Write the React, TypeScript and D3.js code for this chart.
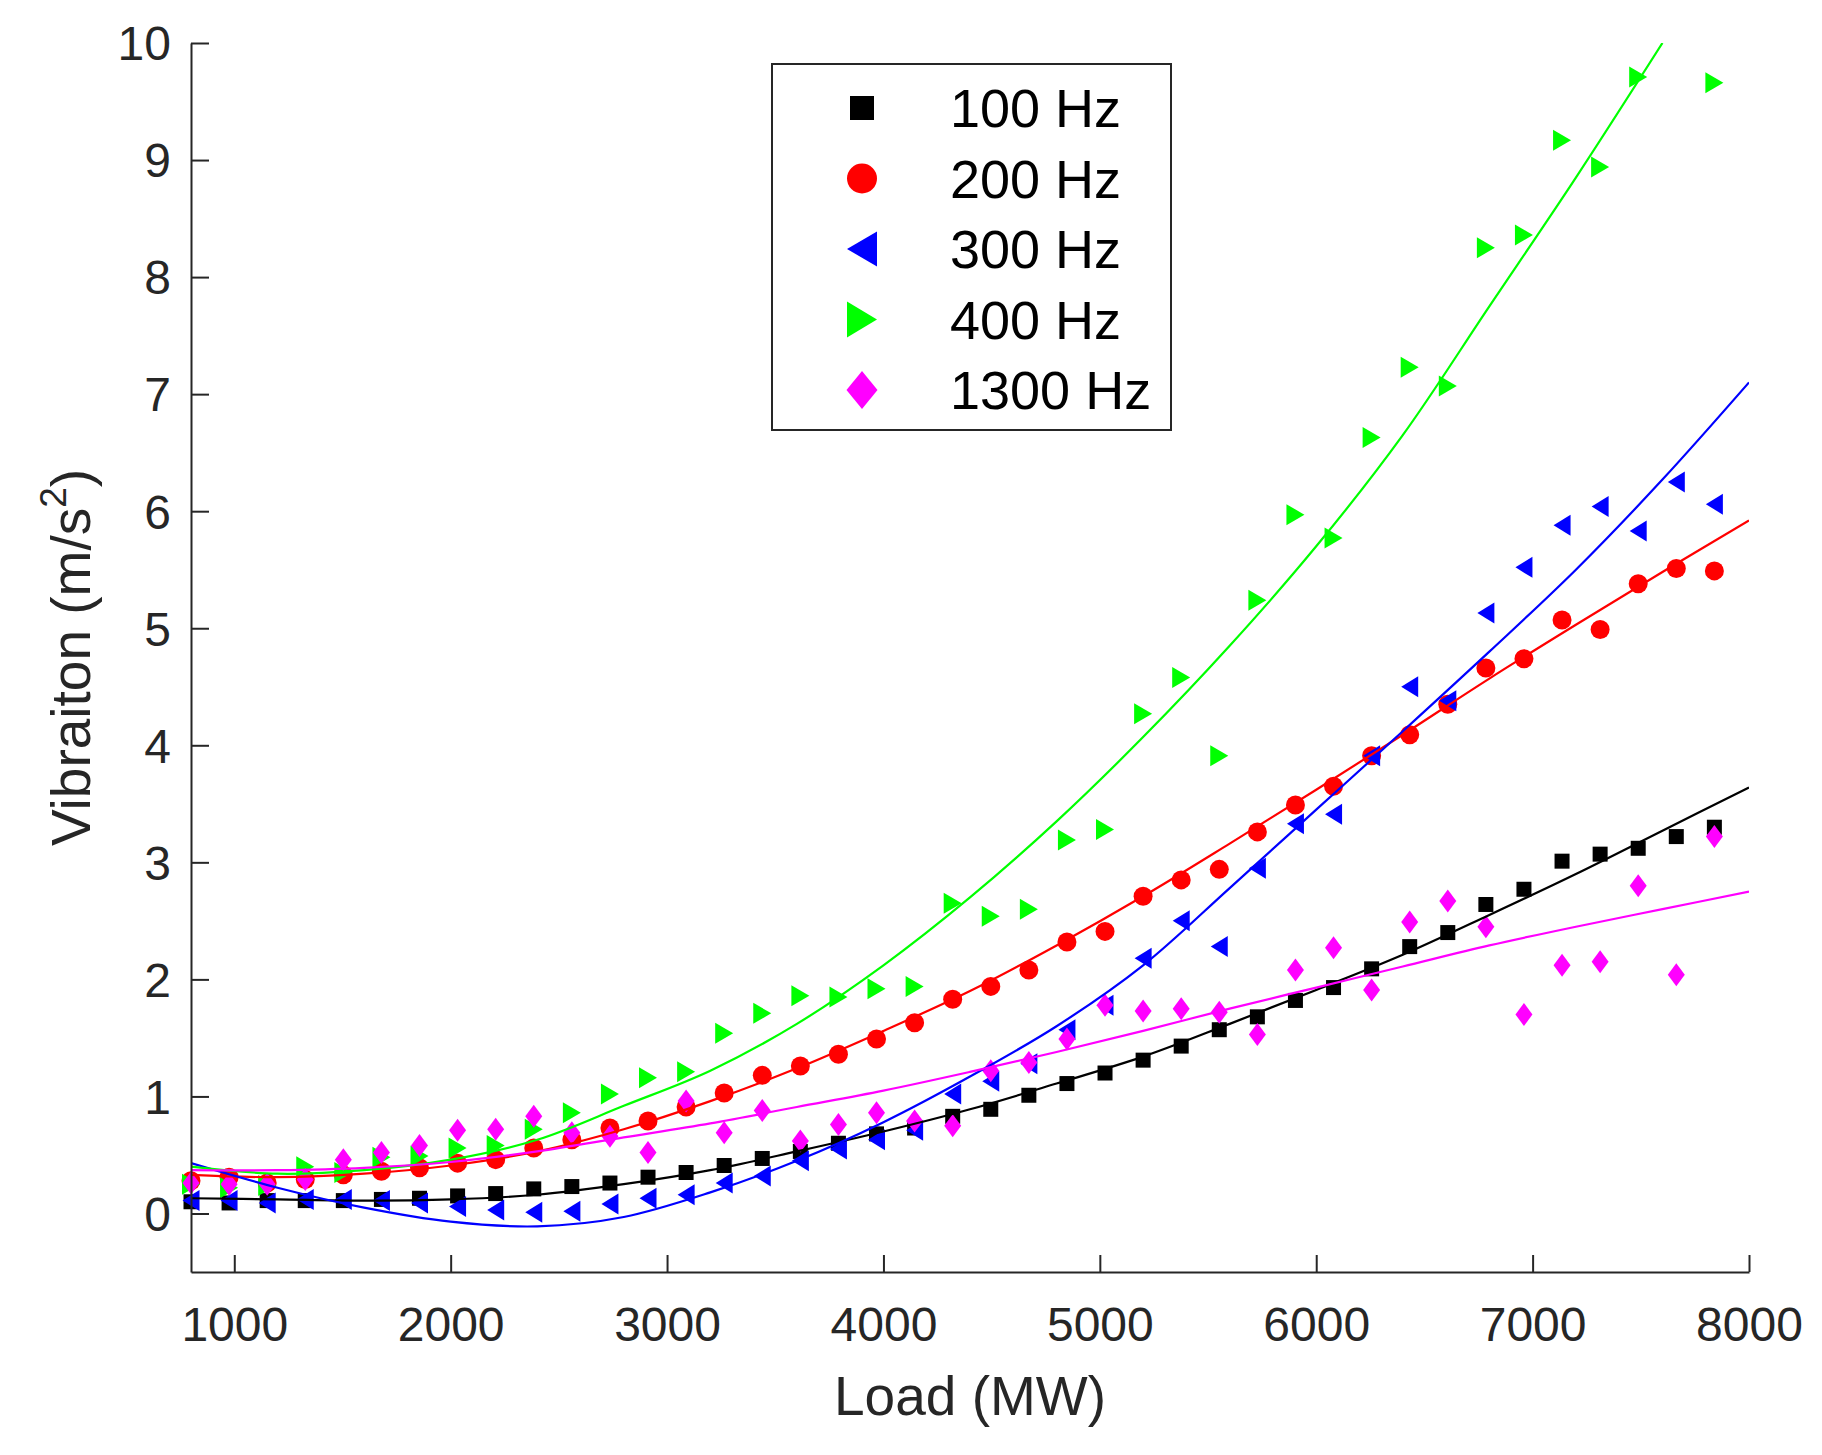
import * as d3 from "d3";
import { useRef, useEffect } from "react";

// measured loads (MW)
const loads = [800, 976, 1152, 1328, 1504, 1680, 1856, 2032, 2208, 2384, 2560, 2736, 2912, 3088, 3264, 3440, 3616, 3792, 3968, 4144, 4320, 4496, 4672, 4848, 5024, 5200, 5376, 5552, 5728, 5904, 6080, 6256, 6432, 6608, 6784, 6960, 7136, 7312, 7488, 7664, 7840];

// vibration per frequency band (m/s^2)
const hz100 = [0.10, 0.09, 0.11, 0.11, 0.11, 0.12, 0.13, 0.15, 0.17, 0.21, 0.23, 0.26, 0.31, 0.35, 0.41, 0.47, 0.53, 0.60, 0.68, 0.73, 0.83, 0.89, 1.01, 1.11, 1.20, 1.31, 1.43, 1.57, 1.68, 1.82, 1.93, 2.09, 2.28, 2.40, 2.64, 2.77, 3.01, 3.07, 3.12, 3.22, 3.30];
const hz200 = [0.28, 0.31, 0.26, 0.29, 0.33, 0.36, 0.39, 0.43, 0.46, 0.56, 0.63, 0.73, 0.79, 0.91, 1.03, 1.18, 1.26, 1.36, 1.49, 1.63, 1.83, 1.94, 2.08, 2.32, 2.41, 2.71, 2.85, 2.94, 3.26, 3.49, 3.65, 3.91, 4.09, 4.35, 4.66, 4.74, 5.07, 4.99, 5.38, 5.51, 5.49];
const hz300 = [0.11, 0.11, 0.09, 0.12, 0.12, 0.11, 0.09, 0.06, 0.03, 0.01, 0.02, 0.08, 0.13, 0.16, 0.26, 0.32, 0.45, 0.55, 0.63, 0.71, 1.02, 1.13, 1.28, 1.57, 1.78, 2.18, 2.50, 2.28, 2.95, 3.33, 3.41, 3.91, 4.50, 4.38, 5.13, 5.52, 5.88, 6.04, 5.83, 6.25, 6.06];
const hz400 = [0.25, 0.22, 0.24, 0.40, 0.35, 0.48, 0.49, 0.56, 0.58, 0.72, 0.86, 1.02, 1.16, 1.21, 1.54, 1.71, 1.86, 1.85, 1.92, 1.94, 2.65, 2.54, 2.60, 3.19, 3.28, 4.27, 4.58, 3.91, 5.24, 5.97, 5.77, 6.63, 7.23, 7.07, 8.25, 8.36, 9.17, 8.94, 9.71, null, 9.66];
const hz1300 = [0.26, 0.25, 0.25, 0.29, 0.46, 0.52, 0.58, 0.71, 0.72, 0.83, 0.69, 0.66, 0.52, 0.96, 0.69, 0.88, 0.62, 0.76, 0.86, 0.79, 0.75, 1.22, 1.29, 1.49, 1.78, 1.73, 1.75, 1.72, 1.53, 2.08, 2.27, 1.91, 2.49, 2.67, 2.45, 1.70, 2.12, 2.15, 2.80, 2.04, 3.22];

const fitLoads = [800, 1200, 1600, 2000, 2400, 2800, 3200, 3600, 4000, 4400, 4800, 5200, 5600, 6000, 6400, 6800, 7200, 7600, 8000];
const fit100 = [0.13, 0.12, 0.11, 0.12, 0.16, 0.25, 0.37, 0.53, 0.70, 0.89, 1.11, 1.34, 1.62, 1.91, 2.21, 2.55, 2.90, 3.27, 3.64];
const fit200 = [0.33, 0.31, 0.34, 0.41, 0.53, 0.72, 0.96, 1.24, 1.56, 1.90, 2.29, 2.71, 3.16, 3.62, 4.09, 4.57, 5.03, 5.48, 5.92];
const fit300 = [0.43, 0.22, 0.05, -0.07, -0.11, -0.03, 0.18, 0.45, 0.78, 1.17, 1.60, 2.12, 2.78, 3.45, 4.12, 4.80, 5.50, 6.27, 7.10];
const fit400 = [0.40, 0.34, 0.37, 0.46, 0.63, 0.92, 1.22, 1.62, 2.12, 2.70, 3.35, 4.07, 4.85, 5.70, 6.65, 7.75, 8.85, 10.0, null];
const fit1300 = [0.37, 0.37, 0.39, 0.44, 0.53, 0.65, 0.77, 0.91, 1.05, 1.21, 1.38, 1.56, 1.75, 1.93, 2.11, 2.29, 2.45, 2.60, 2.75];

const xTicks = [1000, 2000, 3000, 4000, 5000, 6000, 7000, 8000];
const yTicks = [0, 1, 2, 3, 4, 5, 6, 7, 8, 9, 10];

const series = [
  { name: "100 Hz", color: "#000000", shape: "square", values: hz100, fit: fit100 },
  { name: "200 Hz", color: "#ff0000", shape: "circle", values: hz200, fit: fit200 },
  { name: "300 Hz", color: "#0000ff", shape: "left", values: hz300, fit: fit300 },
  { name: "400 Hz", color: "#00ff00", shape: "right", values: hz400, fit: fit400 },
  { name: "1300 Hz", color: "#ff00ff", shape: "diamond", values: hz1300, fit: fit1300 },
];

// marker sizes [w, h] in the plot and in the legend
const plotSize: Record<string, number[]> = { square: [15, 15], circle: [19, 19], left: [17, 21], right: [18, 21], diamond: [17, 23] };
const legendSize: Record<string, number[]> = { square: [24, 24], circle: [30, 30], left: [30, 35], right: [30, 36], diamond: [31, 38] };

function markerPath(shape: string, w: number, h: number) {
  const a = w / 2, b = h / 2;
  if (shape === "square") return `M${-a},${-b}H${a}V${b}H${-a}Z`;
  if (shape === "circle") return `M${-a},0A${a},${a} 0 1,0 ${a},0A${a},${a} 0 1,0 ${-a},0Z`;
  if (shape === "left") return `M${-a},0L${a},${-b}L${a},${b}Z`;
  if (shape === "right") return `M${a},0L${-a},${-b}L${-a},${b}Z`;
  return `M0,${-b}L${a},0L0,${b}L${-a},0Z`;
}

const FONT = "'Liberation Sans', Arial, Helvetica, sans-serif";
const AXIS = "#262626";

export default function App() {
  const svgRef = useRef<SVGSVGElement | null>(null);

  useEffect(() => {
    const width = 1822, height = 1455;
    const left = 191, right = 1749, top = 43, bottom = 1272;

    const svg = d3.select(svgRef.current)
      .attr("width", width)
      .attr("height", height)
      .attr("viewBox", [0, 0, width, height]);
    svg.selectAll("*").remove();

    const x = d3.scaleLinear().domain([800, 8000]).range([left, right]);
    const y = d3.scaleLinear().domain([-0.5, 10]).range([bottom, top]);

    svg.append("defs").append("clipPath").attr("id", "plot-clip")
      .append("rect")
      .attr("x", left).attr("y", top)
      .attr("width", right - left).attr("height", bottom - top);

    // markers
    series.forEach((s) => {
      const [w, h] = plotSize[s.shape];
      svg.append("g")
        .attr("fill", s.color)
        .selectAll()
        .data(loads.map((l, i) => [l, s.values[i]] as [number, number | null]).filter((d) => d[1] !== null))
        .join("path")
        .attr("transform", (d) => `translate(${x(d[0])},${y(d[1] as number)})`)
        .attr("d", markerPath(s.shape, w, h));
    });

    // fitted curves
    const line = d3.line<[number, number | null]>()
      .defined((d) => d[1] !== null)
      .x((d) => x(d[0]))
      .y((d) => y(d[1] as number))
      .curve(d3.curveCatmullRom.alpha(0.5));

    series.forEach((s) => {
      svg.append("path")
        .attr("clip-path", "url(#plot-clip)")
        .attr("fill", "none")
        .attr("stroke", s.color)
        .attr("stroke-width", 2.2)
        .attr("d", line(fitLoads.map((l, i) => [l, s.fit[i]] as [number, number | null])));
    });

    // axes (ticks point inward)
    const gx = svg.append("g")
      .attr("transform", `translate(0,${bottom})`)
      .call(d3.axisBottom(x).tickValues(xTicks).tickSizeInner(-17).tickSizeOuter(0).tickPadding(35).tickFormat(d3.format("d")));
    const gy = svg.append("g")
      .attr("transform", `translate(${left},0)`)
      .call(d3.axisLeft(y).tickValues(yTicks).tickSizeInner(-18).tickSizeOuter(0).tickPadding(20).tickFormat(d3.format("d")));

    [gx, gy].forEach((g) => {
      g.attr("font-family", FONT).attr("font-size", 48);
      g.selectAll("path, line").attr("stroke", AXIS).attr("stroke-width", 2);
      g.selectAll("text").attr("fill", AXIS);
    });
    gy.selectAll("text").attr("dy", "0.35em");

    // axis titles
    svg.append("text")
      .attr("x", (left + right) / 2)
      .attr("y", 1415)
      .attr("text-anchor", "middle")
      .attr("font-family", FONT)
      .attr("font-size", 55)
      .attr("fill", AXIS)
      .text("Load (MW)");

    const yt = svg.append("text")
      .attr("transform", `translate(90,${(top + bottom) / 2}) rotate(-90)`)
      .attr("text-anchor", "middle")
      .attr("font-family", FONT)
      .attr("font-size", 55)
      .attr("fill", AXIS);
    yt.append("tspan").text("Vibraiton (m/s");
    yt.append("tspan").attr("font-size", 37).attr("dy", -24).text("2");
    yt.append("tspan").attr("dy", 24).text(")");

    // legend
    const legend = svg.append("g");
    legend.append("rect")
      .attr("x", 772).attr("y", 64)
      .attr("width", 399).attr("height", 366)
      .attr("fill", "#ffffff")
      .attr("stroke", AXIS)
      .attr("stroke-width", 2);

    const rows = legend.selectAll("g.row")
      .data(series)
      .join("g")
      .attr("class", "row")
      .attr("transform", (_, i) => `translate(0,${108 + i * 70.5})`);
    rows.append("path")
      .attr("transform", "translate(862,0)")
      .attr("fill", (d) => d.color)
      .attr("d", (d) => markerPath(d.shape, legendSize[d.shape][0], legendSize[d.shape][1]));
    rows.append("text")
      .attr("x", 950)
      .attr("dy", "0.36em")
      .attr("font-family", FONT)
      .attr("font-size", 54)
      .attr("fill", "#000000")
      .text((d) => d.name);
  }, []);

  return <svg ref={svgRef} style={{ position: "absolute", left: 0, top: 0, background: "#ffffff" }}></svg>;
}
